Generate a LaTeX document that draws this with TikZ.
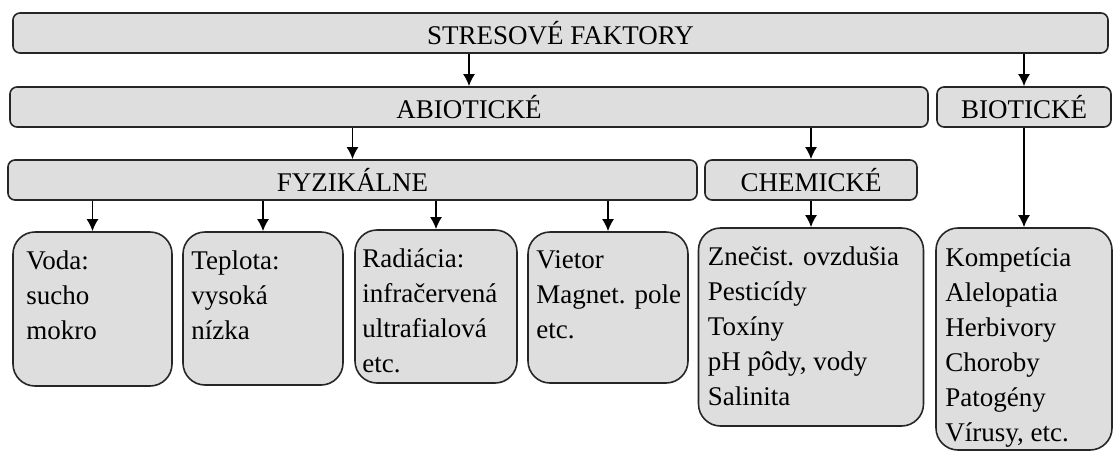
\documentclass[tikz,border=0pt]{standalone}
\usepackage{fontspec}
\setmainfont{Liberation Serif}
\usepackage{tikz}
\usetikzlibrary{arrows.meta}

\tikzset{
  hdr/.style={draw=black!85, line width=1.6pt, fill=black!13, rounded corners=7pt,
    inner sep=0pt, font=\fontsize{27}{35}\selectfont},
  leaf/.style={draw=black!85, line width=1.6pt, fill=black!13, rounded corners=22pt,
    inner sep=0pt},
  list/.style={anchor=north west, inner sep=0pt, align=left,
    font=\fontsize{27}{35}\selectfont},
  arr/.style={line width=1.8pt, -{Latex[length=12pt,width=12pt]}}
}

\begin{document}
\begin{tikzpicture}[x=1pt, y=-1pt]
   \useasboundingbox (0,0) rectangle (1113,453);

   % draw header boxes
   \node[hdr, minimum width=1095, minimum height=40] (stres) at (560.5,33) {STRESOVÉ FAKTORY};
   \node[hdr, minimum width=918, minimum height=40] (abio) at (469,107) {ABIOTICKÉ};
   \node[hdr, minimum width=174, minimum height=40] (bio) at (1024,107) {BIOTICKÉ};
   \node[hdr, minimum width=689, minimum height=40] (fyz) at (352.5,180) {FYZIKÁLNE};
   \node[hdr, minimum width=212, minimum height=40] (chem) at (811,180) {CHEMICKÉ};

   % draw leaf boxes
   \node[leaf, minimum width=159, minimum height=154] (voda) at (92.5,309) {};
   \node[leaf, minimum width=160, minimum height=153] (tepl) at (263,308.5) {};
   \node[leaf, minimum width=162, minimum height=153] (rad) at (436,306.5) {};
   \node[leaf, minimum width=160, minimum height=151] (viet) at (608,307.5) {};
   \node[leaf, minimum width=225, minimum height=198] (chemlist) at (811,327) {};
   \node[leaf, minimum width=176, minimum height=222] (biolist) at (1024,339) {};

   % draw texts in leaf boxes
   \node[list] (vodatext) at ([shift={(14pt,-19pt)}]voda.north west) {Voda:\\sucho\\mokro};
   \node[list] (tepltext) at ([shift={(9pt,-19pt)}]tepl.north west) {Teplota:\\vysoká\\nízka};
   \node[list] (radtext) at ([shift={(8pt,-19pt)}]rad.north west) {Radiácia:\\infračervená\\ultrafialová\\etc.};
   \node[list] (viettext) at ([shift={(9pt,-19pt)}]viet.north west) {Vietor\\Magnet. pole\\etc.};
   \node[list] (chemtext) at ([shift={(10pt,-19pt)}]chemlist.north west) {Znečist. ovzdušia\\Pesticídy\\Toxíny\\pH pôdy, vody\\Salinita};
   \node[list] (biotext) at ([shift={(10pt,-20pt)}]biolist.north west) {Kompetícia\\Alelopatia\\Herbivory\\Choroby\\Patogény\\Vírusy, etc.};

   % draw arrows
   \draw[arr] (stres.south -| abio.north) -- (abio.north);
   \draw[arr] (stres.south -| bio.north) -- (bio.north);
   \draw[arr] (abio.south -| fyz.north) -- (fyz.north);
   \draw[arr] (abio.south -| chem.north) -- (chem.north);
   \foreach \n in {voda,tepl,rad,viet}
     \draw[arr] (fyz.south -| \n.north) -- (\n.north);
   \draw[arr] (chem.south) -- (chemlist.north);
   \draw[arr] (bio.south) -- (biolist.north);
\end{tikzpicture}
\end{document}
